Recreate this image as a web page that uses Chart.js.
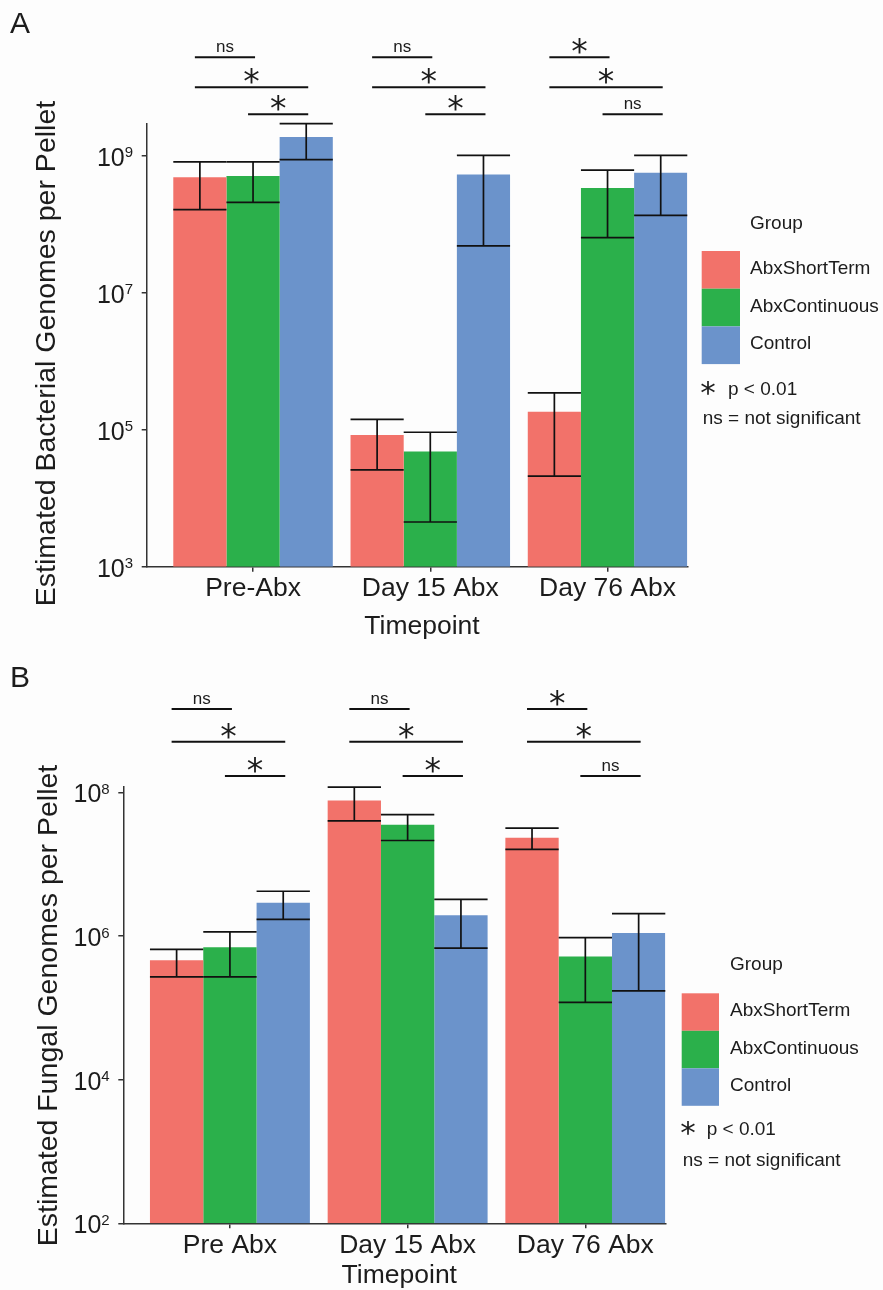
<!DOCTYPE html>
<html>
<head>
<meta charset="utf-8">
<script src="https://cdn.jsdelivr.net/npm/chart.js@4.4.1/dist/chart.umd.min.js"></script>
<style>
html, body { margin: 0; padding: 0; background: #fdfdfd; }
#wrap { position: relative; width: 883px; height: 1290px; overflow: hidden; }
canvas { position: absolute; left: 0; }
</style>
</head>
<body>
<div id="wrap">
  <canvas id="chartA" width="883" height="645" style="top:0px"></canvas>
  <canvas id="chartB" width="883" height="645" style="top:645px"></canvas>
</div>
<script>
// ---------------- DATA ----------------
const groups = ['AbxShortTerm', 'AbxContinuous', 'Control'];

// Panel A: bacteria
const timepointsA = ['Pre-Abx', 'Day 15 Abx', 'Day 76 Abx'];
const bacShortTerm     = [4.9e8, 8.4e4, 1.83e5];
const bacShortTermLow  = [1.65e8, 2.6e4, 2.1e4];
const bacShortTermHigh = [8.2e8, 1.42e5, 3.47e5];
const bacContinuous     = [5.1e8, 4.8e4, 3.4e8];
const bacContinuousLow  = [2.1e8, 4.5e3, 6.4e7];
const bacContinuousHigh = [8.2e8, 9.2e4, 6.2e8];
const bacControl     = [1.9e9, 5.35e8, 5.7e8];
const bacControlLow  = [8.85e8, 4.85e7, 1.36e8];
const bacControlHigh = [2.97e9, 1.02e9, 1.02e9];
const yTicksA = [1e3, 1e5, 1e7, 1e9];
const sigA = [['ns', '*', '*'], ['ns', '*', '*'], ['*', '*', 'ns']];

// Panel B: fungi
const timepointsB = ['Pre Abx', 'Day 15 Abx', 'Day 76 Abx'];
const funShortTerm     = [4.6e5, 7.7e7, 2.34e7];
const funShortTermLow  = [2.7e5, 4.0e7, 1.61e7];
const funShortTermHigh = [6.5e5, 1.18e8, 3.18e7];
const funContinuous     = [7.0e5, 3.54e7, 5.2e5];
const funContinuousLow  = [2.7e5, 2.14e7, 1.19e5];
const funContinuousHigh = [1.14e6, 4.9e7, 9.5e5];
const funControl     = [2.9e6, 1.94e6, 1.1e6];
const funControlLow  = [1.71e6, 6.8e5, 1.72e5];
const funControlHigh = [4.2e6, 3.24e6, 2.05e6];
const yTicksB = [1e2, 1e4, 1e6, 1e8];
const sigB = [['ns', '*', '*'], ['ns', '*', '*'], ['*', '*', 'ns']];

// pairs compared in each timepoint (group indices), top row to bottom row
const comparisonPairs = [[0, 1], [0, 2], [1, 2]];

// ---------------- STYLE ----------------
const groupColors = ['#F2726A', '#2BB04B', '#6B93CB'];
const FONT = '"Liberation Sans", Arial, Helvetica, sans-serif';
const STAR_FONT = '"DejaVu Sans", "Liberation Sans", sans-serif';
const axisColor = '#333333';
const textColor = '#1c1c1c';
const W = 883, H = 645;

function drawText(ctx, s, x, y, font, align, mode) {
  ctx.font = font;
  ctx.textAlign = align || 'center';
  ctx.textBaseline = 'alphabetic';
  let by = y;
  if (mode === 'cap') {
    const h = ctx.measureText('H').actualBoundingBoxAscent;
    by = y + h / 2;
  } else if (mode === 'box') {
    const m = ctx.measureText(s);
    by = y + (m.actualBoundingBoxAscent - m.actualBoundingBoxDescent) / 2;
  }
  ctx.fillText(s, x, by);
}

const errorBars = {
  id: 'errorBars',
  afterDatasetsDraw(chart) {
    const ctx = chart.ctx, y = chart.scales.y;
    ctx.save();
    ctx.strokeStyle = '#111';
    ctx.lineWidth = 1.7;
    chart.data.datasets.forEach((ds, di) => {
      chart.getDatasetMeta(di).data.forEach((bar, i) => {
        const yHi = y.getPixelForValue(ds.hi[i]);
        const yLo = y.getPixelForValue(ds.lo[i]);
        const half = bar.width / 2;
        ctx.beginPath();
        ctx.moveTo(bar.x, yHi); ctx.lineTo(bar.x, yLo);
        ctx.moveTo(bar.x - half, yHi); ctx.lineTo(bar.x + half, yHi);
        ctx.moveTo(bar.x - half, yLo); ctx.lineTo(bar.x + half, yLo);
        ctx.stroke();
      });
    });
    ctx.restore();
  }
};

const decorations = {
  id: 'decorations',
  afterDraw(chart, args, o) {
    const ctx = chart.ctx, xs = chart.scales.x, ys = chart.scales.y, area = chart.chartArea;
    ctx.save();
    ctx.fillStyle = textColor;

    // panel letter
    drawText(ctx, o.letter, 10, o.letterY, '30px ' + FONT, 'left', 'cap');

    // y tick labels 10^n
    o.yTicks.forEach(v => {
      const py = ys.getPixelForValue(v);
      const exp = String(Math.round(Math.log10(v)));
      ctx.font = '25px ' + FONT;
      const cap10 = ctx.measureText('H').actualBoundingBoxAscent;
      drawText(ctx, '10', area.left - 22, py + 1, '25px ' + FONT, 'right', 'cap');
      ctx.font = '15px ' + FONT;
      const capE = ctx.measureText('H').actualBoundingBoxAscent;
      drawText(ctx, exp, area.left - 22, py + 1 - cap10 / 2 + capE / 2 - 0.5, '15px ' + FONT, 'left', 'cap');
    });

    // x tick labels
    o.labels.forEach((lab, i) => {
      drawText(ctx, lab, xs.getPixelForValue(i + 1), area.bottom + o.xLabelOffset, '26.5px ' + FONT, 'center', 'baseline');
    });

    // x title
    drawText(ctx, o.xTitle, (area.left + area.right) / 2 + o.xTitleDx, o.xTitleBaseline, '26.5px ' + FONT, 'center', 'baseline');

    // y title (rotated)
    ctx.save();
    ctx.translate(o.yTitleX, o.yTitleCY);
    ctx.rotate(-Math.PI / 2);
    drawText(ctx, o.yTitle, 0, 0, '28.5px ' + FONT, 'center', 'baseline');
    ctx.restore();

    // significance brackets
    ctx.strokeStyle = '#111';
    ctx.lineWidth = 2;
    o.sig.forEach((rowLabels, ti) => {
      rowLabels.forEach((lab, r) => {
        const [a, b] = comparisonPairs[r];
        const xa = chart.getDatasetMeta(a).data[ti].x - 5;
        const xb = chart.getDatasetMeta(b).data[ti].x + 2;
        const ly = area.top + o.rowOffsets[r];
        ctx.beginPath();
        ctx.moveTo(xa, ly); ctx.lineTo(xb, ly);
        ctx.stroke();
        const cx = (xa + xb) / 2;
        if (lab === '*') {
          drawText(ctx, '*', cx, ly - 11, '33px ' + STAR_FONT, 'center', 'box');
        } else {
          drawText(ctx, lab, cx, ly - 9.5, '17px ' + FONT, 'center', 'box');
        }
      });
    });

    // legend
    const L = o.legend;
    drawText(ctx, 'Group', L.textX, L.groupY, '19px ' + FONT, 'left', 'cap');
    groups.forEach((g, gi) => {
      const top = L.boxTop + gi * L.boxH;
      ctx.fillStyle = groupColors[gi];
      ctx.fillRect(L.boxX, top, L.boxW, L.boxH);
      ctx.fillStyle = textColor;
      drawText(ctx, g, L.textX, top + L.boxH / 2 - 2.5, '19px ' + FONT, 'left', 'cap');
    });
    drawText(ctx, '*', L.starX, L.sigY, '31px ' + STAR_FONT, 'center', 'box');
    drawText(ctx, 'p < 0.01', L.pX, L.sigY, '19px ' + FONT, 'left', 'cap');
    drawText(ctx, 'ns = not significant', L.boxX + 1, L.nsY, '19px ' + FONT, 'left', 'cap');

    ctx.restore();
  }
};

function makeChart(id, means, lows, highs, cfg) {
  const datasets = groups.map((g, gi) => ({
    label: g,
    data: means[gi].map((v, ti) => ({ x: ti + 1, y: v })),
    lo: lows[gi],
    hi: highs[gi],
    backgroundColor: groupColors[gi],
    borderWidth: 0,
    barPercentage: 1.0,
    categoryPercentage: 0.9
  }));
  const gridOpts = { display: true, offset: false, drawOnChartArea: false, drawTicks: true, tickLength: 5, color: axisColor, lineWidth: 1.5 };
  const borderOpts = { display: true, color: axisColor, width: 1.5 };
  return new Chart(document.getElementById(id), {
    type: 'bar',
    data: { datasets },
    options: {
      responsive: false,
      animation: false,
      devicePixelRatio: 1,
      layout: { padding: { left: 0, top: cfg.area.top, right: W - cfg.area.right, bottom: 0 } },
      plugins: {
        legend: { display: false },
        tooltip: { enabled: false },
        title: { display: false },
        decorations: cfg.deco
      },
      scales: {
        x: {
          type: 'linear', min: 0.4, max: 3.45, bounds: 'data', offset: false,
          afterBuildTicks: s => { s.ticks = cfg.deco.labels.map((l, i) => ({ value: i + 1 })); },
          afterFit: s => { s.height = H - cfg.area.bottom; },
          ticks: { display: false },
          grid: gridOpts,
          border: borderOpts
        },
        y: {
          type: 'logarithmic', min: cfg.yMin, max: cfg.yMax, bounds: 'data',
          afterBuildTicks: s => { s.ticks = cfg.deco.yTicks.map(v => ({ value: v })); },
          afterFit: s => { s.width = cfg.area.left; },
          ticks: { display: false },
          grid: gridOpts,
          border: borderOpts
        }
      }
    },
    plugins: [errorBars, decorations]
  });
}

makeChart('chartA',
  [bacShortTerm, bacContinuous, bacControl],
  [bacShortTermLow, bacContinuousLow, bacControlLow],
  [bacShortTermHigh, bacContinuousHigh, bacControlHigh],
  {
    area: { left: 146.7, right: 687.3, top: 123.3, bottom: 566.7 },
    yMin: 1e3, yMax: 3e9,
    deco: {
      letter: 'A', letterY: 22.5,
      labels: timepointsA, yTicks: yTicksA, sig: sigA,
      xLabelOffset: 29.5, xTitle: 'Timepoint', xTitleDx: 5, xTitleBaseline: 634,
      yTitle: 'Estimated Bacterial Genomes per Pellet', yTitleX: 55, yTitleCY: 353.5,
      rowOffsets: [-66, -36, -9],
      legend: { boxX: 701.7, boxTop: 251, boxW: 38.3, boxH: 37.7, textX: 750, groupY: 222,
                starX: 708, pX: 728, sigY: 388.3, nsY: 417 }
    }
  });

makeChart('chartB',
  [funShortTerm, funContinuous, funControl],
  [funShortTermLow, funContinuousLow, funControlLow],
  [funShortTermHigh, funContinuousHigh, funControlHigh],
  {
    area: { left: 123.3, right: 665.3, top: 141.7, bottom: 578.3 },
    yMin: 1e2, yMax: 1.2e8,
    deco: {
      letter: 'B', letterY: 31.7,
      labels: timepointsB, yTicks: yTicksB, sig: sigB,
      xLabelOffset: 30, xTitle: 'Timepoint', xTitleDx: 5, xTitleBaseline: 638.3,
      yTitle: 'Estimated Fungal Genomes per Pellet', yTitleX: 56.5, yTitleCY: 360.5,
      rowOffsets: [-77.7, -45, -10.7],
      legend: { boxX: 681.7, boxTop: 348.3, boxW: 37.3, boxH: 37.5, textX: 730, groupY: 318,
                starX: 688, pX: 706.7, sigY: 483.3, nsY: 514 }
    }
  });
</script>
</body>
</html>
